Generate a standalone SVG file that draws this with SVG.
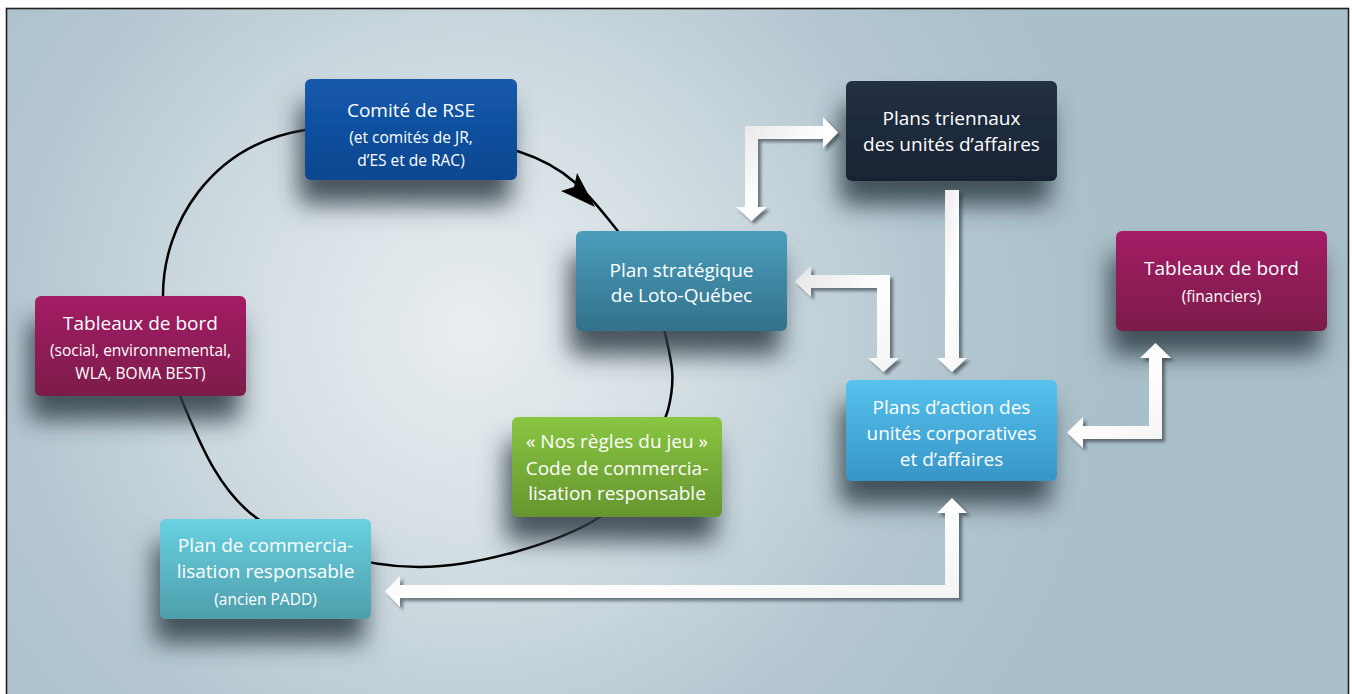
<svg xmlns="http://www.w3.org/2000/svg" width="1352" height="694" viewBox="0 0 1352 694">
<defs>
<radialGradient id="bg" gradientUnits="userSpaceOnUse" cx="470" cy="330" r="640">
<stop offset="0" stop-color="#e9eef1"/>
<stop offset="0.35" stop-color="#d3dee3"/>
<stop offset="0.72" stop-color="#b4c7d0"/>
<stop offset="1" stop-color="#a9bfc9"/>
</radialGradient>
<linearGradient id="gBlue" x1="0" y1="0" x2="0" y2="1"><stop offset="0" stop-color="#1459ac"/><stop offset="1" stop-color="#0c4790"/></linearGradient>
<linearGradient id="gTeal" x1="0" y1="0" x2="0" y2="1"><stop offset="0" stop-color="#4a9ebc"/><stop offset="1" stop-color="#33718b"/></linearGradient>
<linearGradient id="gNavy" x1="0" y1="0" x2="0" y2="1"><stop offset="0" stop-color="#233043"/><stop offset="1" stop-color="#192433"/></linearGradient>
<linearGradient id="gMag" x1="0" y1="0" x2="0" y2="1"><stop offset="0" stop-color="#a41f65"/><stop offset="1" stop-color="#7c1a4a"/></linearGradient>
<linearGradient id="gSky" x1="0" y1="0" x2="0" y2="1"><stop offset="0" stop-color="#56c2ed"/><stop offset="1" stop-color="#3795c7"/></linearGradient>
<linearGradient id="gGreen" x1="0" y1="0" x2="0" y2="1"><stop offset="0" stop-color="#89c642"/><stop offset="1" stop-color="#65952e"/></linearGradient>
<linearGradient id="gCyan" x1="0" y1="0" x2="0" y2="1"><stop offset="0" stop-color="#69d1e1"/><stop offset="1" stop-color="#4e9eab"/></linearGradient>
<linearGradient id="gArrow" x1="0" y1="0" x2="1" y2="1"><stop offset="0" stop-color="#e4e4e4"/><stop offset="0.5" stop-color="#ffffff"/><stop offset="1" stop-color="#f2f2f2"/></linearGradient>
<filter id="boxShadow" x="-30%" y="-40%" width="160%" height="200%">
<feGaussianBlur in="SourceAlpha" stdDeviation="12" result="b"/>
<feOffset in="b" dx="-6" dy="24" result="o"/>
<feFlood flood-color="#2e3c44" flood-opacity="0.85"/>
<feComposite in2="o" operator="in" result="s"/>
<feMerge><feMergeNode in="s"/><feMergeNode in="SourceGraphic"/></feMerge>
</filter>
<filter id="arrowShadow" x="-20%" y="-20%" width="140%" height="140%">
<feDropShadow dx="3" dy="3" stdDeviation="1.8" flood-color="#1e2a30" flood-opacity="0.55"/>
</filter>
<style>
.box{filter:url(#boxShadow)}
.t{font-family:"Open Sans","Noto Sans","DejaVu Sans",sans-serif;fill:#ffffff;text-anchor:middle}
.m{font-size:19px}
.s{font-size:15.5px}
.arrow{fill:url(#gArrow);filter:url(#arrowShadow)}
.cyc{fill:none;stroke:#000;stroke-width:2.5}
</style>
</defs>
<rect x="0" y="0" width="1352" height="694" fill="#ffffff"/>
<rect x="6.5" y="8.5" width="1342" height="700" fill="url(#bg)" stroke="#231f20" stroke-width="1.6"/>

<g id="cycle">
<path class="cyc" d="M305,130 C365,120.5 468,135.3 520,152 C572,168.7 592.5,199.8 617,230 C641.5,260.2 658.3,303 665,333 C672,363 676,379 668,410 C657.8,440.7 641.5,490.8 600,517 C558.5,543.2 477,566.7 420,567 C363,567.3 297.5,546.3 258,519 C218.5,491.7 198.8,440.3 183,403 C171,375 162,335 163,295 C163,225 210,145 305,130 Z"/>
<polygon points="595,207 577,173 574,187 561,191" fill="#000"/>
</g>

<g id="node-comite">
<rect class="box" x="305" y="79" width="212" height="101" rx="6" fill="url(#gBlue)"/>
<text class="t m" x="411" y="117">Comité de RSE</text>
<text class="t s" x="411" y="143">(et comités de JR,</text>
<text class="t s" x="411" y="166">d’ES et de RAC)</text>
</g>
<g id="node-plan-strategique">
<rect class="box" x="576" y="231" width="211" height="100" rx="6" fill="url(#gTeal)"/>
<text class="t m" x="681.5" y="277">Plan stratégique</text>
<text class="t m" x="681.5" y="302">de Loto-Québec</text>
</g>
<g id="node-plans-triennaux">
<rect class="box" x="846" y="81" width="211" height="100" rx="6" fill="url(#gNavy)"/>
<text class="t m" x="951.5" y="125">Plans triennaux</text>
<text class="t m" x="951.5" y="151">des unités d’affaires</text>
</g>
<g id="node-tableaux-financiers">
<rect class="box" x="1116" y="231" width="211" height="100" rx="6" fill="url(#gMag)"/>
<text class="t m" x="1221.5" y="275">Tableaux de bord</text>
<text class="t s" x="1221.5" y="302">(financiers)</text>
</g>
<g id="node-tableaux-social">
<rect class="box" x="35" y="296" width="211" height="100" rx="6" fill="url(#gMag)"/>
<text class="t m" x="140.5" y="330">Tableaux de bord</text>
<text class="t s" x="140.5" y="356">(social, environnemental,</text>
<text class="t s" x="140.5" y="379">WLA, BOMA BEST)</text>
</g>
<g id="node-plans-action">
<rect class="box" x="846" y="380" width="211" height="101" rx="6" fill="url(#gSky)"/>
<text class="t m" x="951.5" y="414">Plans d’action des</text>
<text class="t m" x="951.5" y="440">unités corporatives</text>
<text class="t m" x="951.5" y="466">et d’affaires</text>
</g>
<g id="node-regles">
<rect class="box" x="512" y="417" width="210" height="100" rx="6" fill="url(#gGreen)"/>
<text class="t m" x="617" y="448">« Nos règles du jeu »</text>
<text class="t m" x="617" y="475">Code de commercia-</text>
<text class="t m" x="617" y="500">lisation responsable</text>
</g>
<g id="node-plan-commercialisation">
<rect class="box" x="160" y="519" width="211" height="100" rx="6" fill="url(#gCyan)"/>
<text class="t m" x="265.5" y="552">Plan de commercia-</text>
<text class="t m" x="265.5" y="578">lisation responsable</text>
<text class="t s" x="265.5" y="605">(ancien PADD)</text>
</g>

<g id="connectors">
<path class="arrow" d="M838,132.5 L823,117 L823,126 L745,126 L745,207 L736,207 L751.5,221 L767,207 L758,207 L758,139 L823,139 L823,148 Z"/>
<path class="arrow" d="M795,281.5 L811,266 L811,275 L890,275 L890,358 L899,358 L883.5,372 L868,358 L877,358 L877,288 L811,288 L811,297 Z"/>
<path class="arrow" d="M945,190 L959,190 L959,358 L967,358 L952,372 L937,358 L945,358 Z"/>
<path class="arrow" d="M1155.5,343 L1171,358 L1162,358 L1162,439 L1083,439 L1083,448 L1067,432.5 L1083,417 L1083,426 L1149,426 L1149,358 L1140,358 Z"/>
<path class="arrow" d="M952,498 L967,513 L959,513 L959,598 L400,598 L400,607 L385,591.5 L400,576 L400,585 L945,585 L945,513 L937,513 Z"/>
</g>
</svg>
